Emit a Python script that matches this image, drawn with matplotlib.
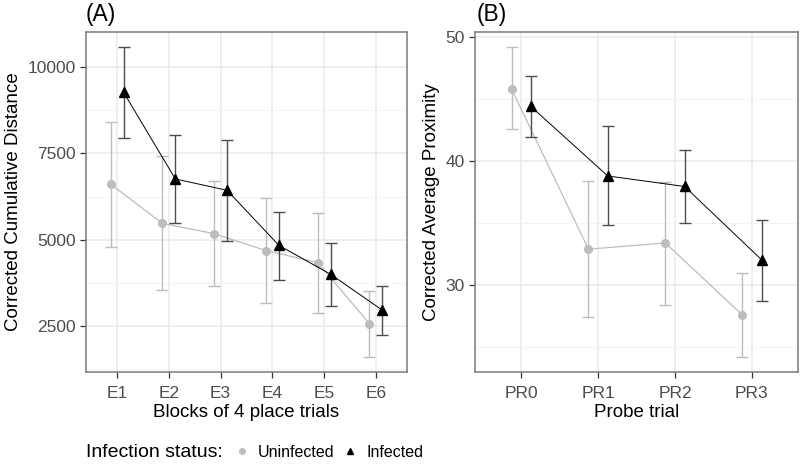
import numpy as np
import matplotlib.pyplot as plt
from matplotlib.lines import Line2D

plt.rcParams['font.family'] = ['Liberation Sans', 'DejaVu Sans']

# Panel A: place trial blocks
blocks = ["E1", "E2", "E3", "E4", "E5", "E6"]
dist_uninf = [6610, 5470, 5170, 4680, 4330, 2555]
dist_uninf_lo = [4770, 3520, 3640, 3170, 2860, 1600]
dist_uninf_hi = [8420, 7420, 6710, 6200, 5780, 3510]
dist_inf = [9280, 6760, 6430, 4830, 3990, 2945]
dist_inf_lo = [7960, 5490, 4960, 3830, 3060, 2225]
dist_inf_hi = [10580, 8030, 7890, 5810, 4900, 3650]

# Panel B: probe trials
probes = ["PR0", "PR1", "PR2", "PR3"]
prox_uninf = [45.8, 32.9, 33.4, 27.6]
prox_uninf_lo = [42.6, 27.4, 28.4, 24.25]
prox_uninf_hi = [49.15, 38.4, 38.35, 30.95]
prox_inf = [44.4, 38.8, 37.95, 32.05]
prox_inf_lo = [41.9, 34.85, 35.0, 28.75]
prox_inf_hi = [46.85, 42.8, 40.85, 35.25]

c_uninf = "#bdbdbd"
c_inf = "#000000"
c_inf_err = "#4d4d4d"
dodge = 0.125


def panel(ax, cats, u, ulo, uhi, i, ilo, ihi, yticks, yminor, ylabel, xlabel):
    x = np.arange(len(cats))
    xu = x - dodge
    xi = x + dodge
    u = np.array(u); i = np.array(i)
    ax.errorbar(xu, u, yerr=[u - np.array(ulo), np.array(uhi) - u], fmt="none",
                ecolor=c_uninf, elinewidth=1, capsize=4.5, capthick=1, zorder=3)
    ax.plot(xu, u, color=c_uninf, lw=0.9, marker="o", ms=5.5, zorder=4)
    ax.errorbar(xi, i, yerr=[i - np.array(ilo), np.array(ihi) - i], fmt="none",
                ecolor=c_inf_err, elinewidth=1, capsize=4.5, capthick=1, zorder=5)
    ax.plot(xi, i, color=c_inf, lw=0.7, marker="^", ms=6.5, zorder=6)

    lo = min(min(ulo), min(ilo)); hi = max(max(uhi), max(ihi))
    pad = (hi - lo) * 0.05
    ax.set_ylim(lo - pad, hi + pad)
    ax.set_xlim(-0.6, len(cats) - 1 + 0.6)
    ax.set_xticks(x)
    ax.set_xticklabels(cats)
    ax.set_yticks(yticks)
    ax.set_yticks(yminor, minor=True)
    ax.grid(True, which="major", color="#ebebeb", lw=1.1, zorder=0)
    ax.grid(True, which="minor", axis="y", color="#f3f3f3", lw=0.6, zorder=0)
    ax.set_axisbelow(True)
    ax.tick_params(which="major", length=4, color="#333333", labelcolor="#4d4d4d",
                   labelsize=12.5, width=0.9)
    ax.tick_params(axis="x", which="major", pad=6)
    ax.tick_params(which="minor", length=0)
    for s in ax.spines.values():
        s.set_color("#7a7a7a")
        s.set_linewidth(1.1)
    ax.set_ylabel(ylabel, fontsize=13.5, color="black", labelpad=4)
    ax.set_xlabel(xlabel, fontsize=13.5, color="black", labelpad=2)


fig = plt.figure(figsize=(8, 4.68), dpi=100)
axA = fig.add_axes([0.1075, 0.2051, 0.4013, 0.7265])
axB = fig.add_axes([0.5938, 0.2051, 0.4038, 0.7265])

panel(axA, blocks, dist_uninf, dist_uninf_lo, dist_uninf_hi,
      dist_inf, dist_inf_lo, dist_inf_hi,
      [2500, 5000, 7500, 10000], [1250, 3750, 6250, 8750],
      "Corrected Cumulative Distance", "Blocks of 4 place trials")
panel(axB, probes, prox_uninf, prox_uninf_lo, prox_uninf_hi,
      prox_inf, prox_inf_lo, prox_inf_hi,
      [30, 40, 50], [25, 35, 45],
      "Corrected Average Proximity", "Probe trial")

fig.text(0.107, 0.968, "(A)", fontsize=16.5, va="center", ha="left")
fig.text(0.596, 0.968, "(B)", fontsize=16.5, va="center", ha="left")

# legend at bottom
fig.text(0.108, 0.034, "Infection status:", fontsize=14, va="center", ha="left")
handles = [Line2D([], [], ls="none", marker="o", ms=4, color=c_uninf),
           Line2D([], [], ls="none", marker="^", ms=5, color=c_inf)]
fig.legend(handles, ["Uninfected", "Infected"], ncol=2, frameon=False,
           loc="center left", bbox_to_anchor=(0.282, 0.034), fontsize=11.5,
           handlelength=1.0, handletextpad=0.5, columnspacing=0.5, borderpad=0)

fig.savefig("out.png", dpi=100)
